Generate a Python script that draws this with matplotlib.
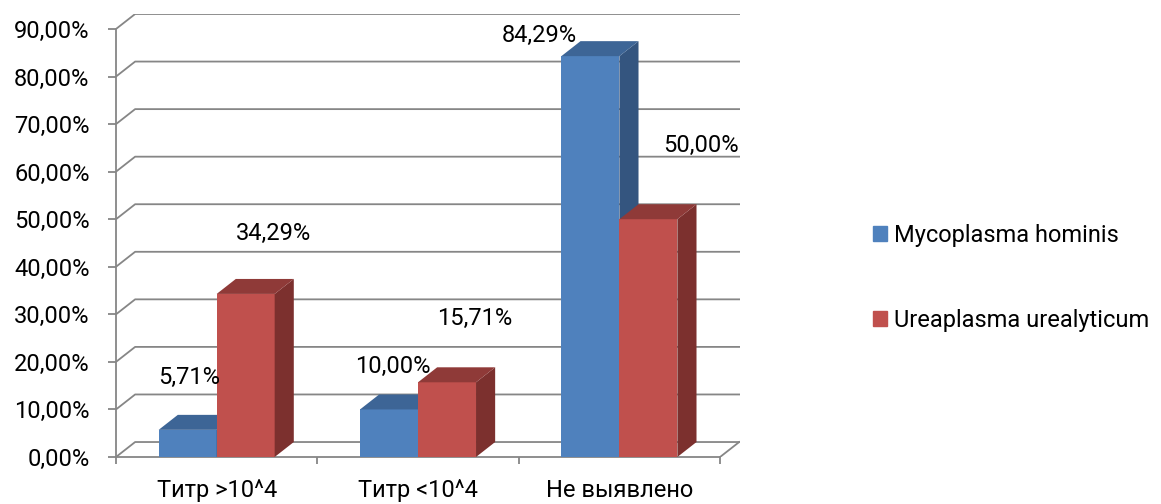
import matplotlib.pyplot as plt
from matplotlib.patches import Polygon

plt.rcParams['font.family'] = ['Roboto', 'DejaVu Sans']

# data
categories = ['Титр >10^4', 'Титр <10^4', 'Не выявлено']
series_names = ['Mycoplasma hominis', 'Ureaplasma urealyticum']
mycoplasma = [5.71, 10.00, 84.29]
ureaplasma = [34.29, 15.71, 50.00]
y_ticks = [0, 10, 20, 30, 40, 50, 60, 70, 80, 90]

# layout of the value labels (x in category units, y in percent)
label_pos_myco = [(-0.137, 16.8), (0.876, 19.1), (1.601, 88.7)]
label_pos_urea = [(0.28, 47.1), (1.283, 29.2), (2.406, 65.6)]

# colours: front, side, top
blue = ('#4F81BD', '#34557F', '#3D6596')
red = ('#C0504D', '#7C302E', '#8F3A38')

# 3d depth offsets in data units
dx, dy = 0.095, 3.15
bar_w = 0.288
grid_col = '#868686'
fs = 17

fig = plt.figure(figsize=(11.61, 5.04), dpi=100)
ax = fig.add_axes([116 / 1161, 47 / 504, 624 / 1161, 443 / 504])
ax.set_xlim(-0.5, 2.5 + dx + 0.004)
ax.set_ylim(0, 90 + dy)

# back wall gridlines with the diagonal on the side wall
for v in y_ticks:
    ax.plot([-0.5, -0.5 + dx, 2.5 + dx + 0.004], [v, v + dy, v + dy],
            color=grid_col, lw=1.3, zorder=1, solid_capstyle='butt')
# floor edge on the right
ax.plot([2.5, 2.5 + dx], [0, dy], color=grid_col, lw=1.3, zorder=1)


def bar3d(x0, h, cols):
    x1 = x0 + bar_w
    ax.bar(x0, h, width=bar_w, align='edge', color=cols[0], lw=0, zorder=3)
    ax.add_patch(Polygon([(x1, 0), (x1 + dx, dy), (x1 + dx, h + dy), (x1, h)],
                         closed=True, facecolor=cols[1], lw=0, zorder=3))
    ax.add_patch(Polygon([(x0, h), (x0 + dx, h + dy), (x1 + dx, h + dy), (x1, h)],
                         closed=True, facecolor=cols[2], lw=0, zorder=3))


for i in range(len(categories)):
    bar3d(i - bar_w, mycoplasma[i], blue)
    bar3d(i, ureaplasma[i], red)


def fmt(v):
    return f'{v:.2f}%'.replace('.', ',')


for v, (x, y) in zip(mycoplasma, label_pos_myco):
    ax.text(x, y, fmt(v), ha='center', va='center', fontsize=fs, zorder=5)
for v, (x, y) in zip(ureaplasma, label_pos_urea):
    ax.text(x, y, fmt(v), ha='center', va='center', fontsize=fs, zorder=5)

# axes
for s in ['top', 'right']:
    ax.spines[s].set_visible(False)
ax.spines['left'].set_bounds(0, 90)
ax.spines['bottom'].set_bounds(-0.5, 2.5)
for s in ['left', 'bottom']:
    ax.spines[s].set_color(grid_col)
    ax.spines[s].set_linewidth(1.3)
    ax.spines[s].set_zorder(2)

ax.set_yticks(y_ticks)
ax.set_yticklabels([fmt(v) for v in y_ticks])
ax.tick_params(axis='y', length=6, width=1.3, color=grid_col, pad=13, labelsize=fs)

ax.set_xticks([-0.5, 0.5, 1.5, 2.5])
ax.set_xticklabels([])
ax.set_xticks(range(len(categories)), minor=True)
ax.set_xticklabels(categories, minor=True)
ax.tick_params(axis='x', which='major', length=5, width=1.3, color=grid_col)
ax.tick_params(axis='x', which='minor', length=0, pad=16, labelsize=fs)

handles = [plt.Rectangle((0, 0), 1, 1, color=blue[0]),
           plt.Rectangle((0, 0), 1, 1, color=red[0])]
fig.legend(handles, series_names, loc='center left',
           bbox_to_anchor=(852 / 1161, 1 - 278 / 504), frameon=False,
           fontsize=fs, handlelength=0.6, handleheight=0.6,
           handletextpad=0.3, labelspacing=2.6)

fig.savefig('out.png', dpi=100)
